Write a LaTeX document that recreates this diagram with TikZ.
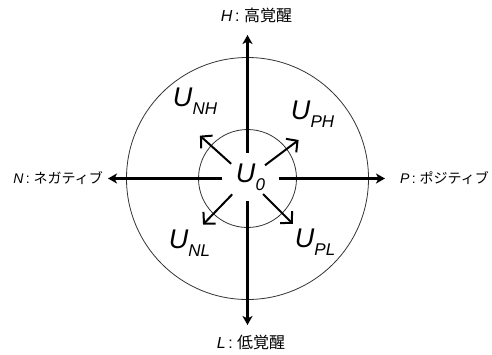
\documentclass[tikz,border=0pt]{standalone}
\usepackage{fontspec}
\usepackage{tikz}
\usetikzlibrary{arrows.meta}
\setmainfont{Liberation Sans}
\newfontfamily\jpfont{Noto Sans CJK JP}
\definecolor{ringgray}{HTML}{333333}
\newcommand{\Ulab}[1]{\textit{U}\raisebox{-8pt}{\fontsize{17}{17}\selectfont\textit{#1}}}

\begin{document}
\begin{tikzpicture}[x=1pt, y=1pt,
    axis/.style={line width=2.2pt, -{Stealth[length=9pt, width=10pt, inset=2.5pt]}},
    spoke/.style={line width=2pt, -{Straight Barb[length=8pt, width=17pt]}},
    ulab/.style={font=\fontsize{27}{27}\selectfont, inner sep=0pt},
    pole/.style={font=\fontsize{14}{17}\selectfont, inner sep=0pt}]
    \useasboundingbox (-247.5,-175.5) rectangle (244.5,178.5);
    \draw[ringgray, line width=0.8pt] (0,0) circle (121) (0,0) circle (49);
    \coordinate (o) at (0,0);
    \node[ulab, minimum width=56pt, minimum height=48pt] (u0) at (3,1.5) {\Ulab{0}};
    \node[ulab] (unh) at (-52.5,77) {\Ulab{NH}};
    \node[ulab] (uph) at (65,64.5) {\Ulab{PH}};
    \node[ulab] (unl) at (-58,-65) {\Ulab{NL}};
    \node[ulab] (upl) at (67.5,-63.5) {\Ulab{PL}};
    \node[pole, font=\fontsize{16}{19}\selectfont] (h) at (9,163.5) {\textit{H}\,:\ {\jpfont 高覚醒}};
    \node[pole, font=\fontsize{16}{19}\selectfont] (l) at (3.5,-163.5) {\textit{L}\,:\ {\jpfont 低覚醒}};
    \node[pole, anchor=east] (n) at (-144.5,0) {\textit{N}\,:\ {\jpfont ネガティブ}};
    \node[pole, anchor=west] (p) at (152.5,0) {\textit{P}\,:\ {\jpfont ポジティブ}};
    \coordinate (ht) at (0,143.5);
    \coordinate (lt) at (0,-146.5);
    \coordinate (nt) at (-139.5,0);
    \coordinate (pt) at (137.5,0);
    \draw[axis] (o |- u0.north) -- (ht);
    \draw[axis] (o |- u0.south) -- (lt);
    \draw[axis] (o -| u0.west) -- (nt);
    \draw[axis] (o -| u0.east) -- (pt);
    \foreach \a in {138,37,226,315}{
      \draw[spoke] (\a:22) -- (\a:64);
    }
\end{tikzpicture}
\end{document}
